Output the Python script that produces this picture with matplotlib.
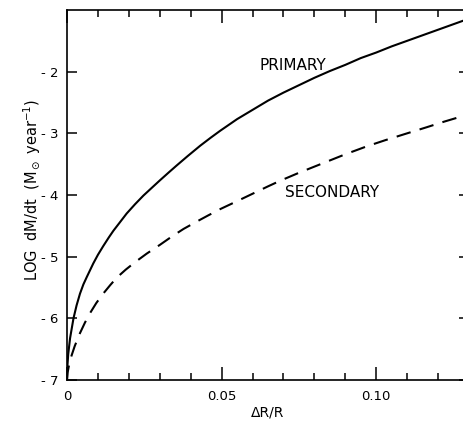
import matplotlib
matplotlib.use("Agg")
import matplotlib.pyplot as plt
from matplotlib.ticker import MultipleLocator

# ==========================================
# Data
# ==========================================

primary_x = [0.0, 0.0001, 0.0004, 0.0010, 0.0021, 0.0031, 0.0042, 0.0053,
             0.0064, 0.0085, 0.010, 0.0117, 0.0135, 0.015, 0.017, 0.0193,
             0.022, 0.0247, 0.0275, 0.0301, 0.033, 0.0355, 0.039, 0.0431,
             0.0465, 0.0495, 0.055, 0.060, 0.065, 0.070, 0.075, 0.080,
             0.085, 0.090, 0.095, 0.100, 0.105, 0.110, 0.115, 0.120,
             0.125, 0.130]
primary_y = [-7.0, -6.80, -6.58, -6.32, -6.00, -5.79, -5.60, -5.45,
             -5.33, -5.11, -4.97, -4.83, -4.69, -4.58, -4.45, -4.30,
             -4.15, -4.01, -3.88, -3.76, -3.63, -3.52, -3.37, -3.20,
             -3.07, -2.96, -2.77, -2.62, -2.47, -2.34, -2.22, -2.10,
             -1.99, -1.89, -1.78, -1.69, -1.59, -1.50, -1.41, -1.32,
             -1.23, -1.14]

secondary_x = [0.0, 0.0002, 0.0008, 0.0015, 0.0025, 0.0042, 0.0058, 0.0074,
               0.0095, 0.0117, 0.014, 0.0161, 0.019, 0.022, 0.0258, 0.030,
               0.034, 0.0377, 0.042, 0.0457, 0.0495, 0.055, 0.060, 0.065,
               0.0689, 0.075, 0.080, 0.085, 0.090, 0.097, 0.103, 0.110,
               0.1164, 0.122, 0.128, 0.130]
secondary_y = [-7.0, -6.88, -6.72, -6.60, -6.45, -6.24, -6.07, -5.92,
               -5.75, -5.60, -5.46, -5.34, -5.21, -5.09, -4.95, -4.81,
               -4.67, -4.55, -4.43, -4.33, -4.23, -4.10, -3.98, -3.86,
               -3.77, -3.64, -3.54, -3.44, -3.34, -3.21, -3.11, -3.00,
               -2.90, -2.81, -2.72, -2.69]

x_ticks = [0, 0.05, 0.10]
x_labels = ["0", "0.05", "0.10"]
y_ticks = [-7, -6, -5, -4, -3, -2]
y_labels = ["- 7", "- 6", "- 5", "- 4", "- 3", "- 2"]

# ==========================================
# Figure
# ==========================================

plt.rcParams["font.family"] = ["DejaVu Sans"]

fig = plt.figure(figsize=(4.63, 4.21), dpi=100)
ax = fig.add_axes([0.1447, 0.0974, 0.8683, 0.8789])

ax.plot(primary_x, primary_y, color="black", lw=1.5)
ax.plot(secondary_x, secondary_y, color="black", lw=1.5, dashes=(7, 4.5))

ax.set_xlim(0, 0.13)
ax.set_ylim(-7, -1)

ax.set_xticks(x_ticks)
ax.set_xticklabels(x_labels, fontsize=9.5)
ax.xaxis.set_minor_locator(MultipleLocator(0.01))
ax.set_yticks(y_ticks)
ax.set_yticklabels(y_labels, fontsize=9.5)

ax.tick_params(axis="x", which="major", direction="in", length=9.4, width=1.1,
               top=True, pad=7)
ax.tick_params(axis="x", which="minor", direction="in", length=5, width=1.1,
               top=True)
ax.tick_params(axis="y", which="major", direction="in", length=7.2, width=1.1,
               right=True, pad=6)

for s in ax.spines.values():
    s.set_linewidth(1.2)

ax.set_xlabel("ΔR/R", fontsize=10)
ax.xaxis.set_label_coords(0.5, -0.068)
ax.set_ylabel(r"LOG  dM/dt  (M$_\odot$ year$^{-1}$)", fontsize=10.5)
ax.yaxis.set_label_coords(-0.06, 0.514)

ax.text(0.073, -1.98, "PRIMARY", fontsize=11, ha="center", va="baseline")
ax.text(0.0857, -4.04, "SECONDARY", fontsize=11, ha="center", va="baseline")

fig.savefig("out.png", dpi=100)
